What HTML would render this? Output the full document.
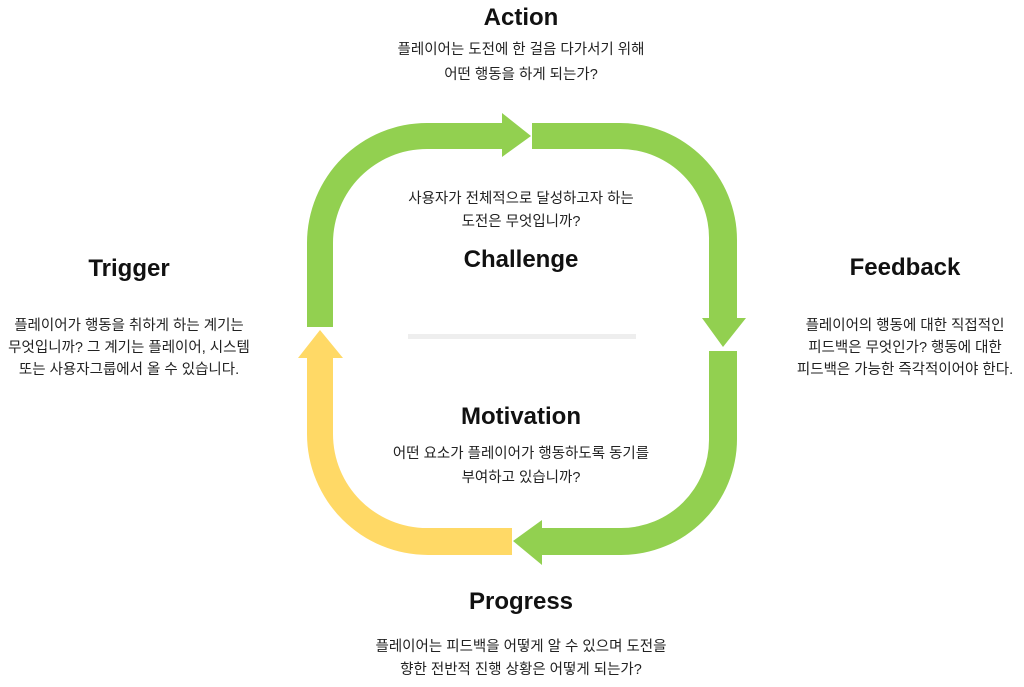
<!DOCTYPE html>
<html><head><meta charset="utf-8"><style>
html,body{margin:0;padding:0;background:#fff;}
svg{display:block;}
.h{font-family:"Liberation Sans",sans-serif;font-weight:bold;font-size:24px;fill:#111;text-anchor:middle;}
.t{font-family:"Liberation Sans","Noto Sans CJK KR",sans-serif;font-size:14.5px;fill:#222;text-anchor:middle;}
</style></head><body>
<svg width="1024" height="687" viewBox="0 0 1024 687" xmlns="http://www.w3.org/2000/svg">
<path fill="#92d050" d="M307,327 L307,243 A120,120 0 0 1 427,123 L502,123 L502,113 L531,136 L502,157 L502,149 L427,149 A94,94 0 0 0 333,243 L333,327 Z"/>
<path fill="#92d050" d="M532,123 L620,123 A117,117 0 0 1 737,240 L737,318 L746,318 L723,347 L702,318 L709,318 L709,240 A89,89 0 0 0 620,149 L532,149 Z"/>
<path fill="#92d050" d="M709,351 L709,440 A88,88 0 0 1 621,528 L542,528 L542,520 L513,541 L542,565 L542,555 L621,555 A116,116 0 0 0 737,439 L737,351 Z"/>
<path fill="#ffd966" d="M512,528 L427,528 A94,94 0 0 1 333,434 L333,358 L343,358 L320,330 L298,358 L307,358 L307,434 A121,121 0 0 0 428,555 L512,555 Z"/>
<rect x="408" y="334" width="228" height="5" fill="#eeeeee"/>
<text class="h" x="521" y="25">Action</text>
<text class="t" x="521" y="54">플레이어는 도전에 한 걸음 다가서기 위해</text>
<text class="t" x="521" y="79">어떤 행동을 하게 되는가?</text>
<text class="t" x="521" y="203">사용자가 전체적으로 달성하고자 하는</text>
<text class="t" x="521" y="226">도전은 무엇입니까?</text>
<text class="h" x="521" y="267">Challenge</text>
<text class="h" x="521" y="424">Motivation</text>
<text class="t" x="521" y="458">어떤 요소가 플레이어가 행동하도록 동기를</text>
<text class="t" x="521" y="482">부여하고 있습니까?</text>
<text class="h" x="521" y="609">Progress</text>
<text class="t" x="521" y="651">플레이어는 피드백을 어떻게 알 수 있으며 도전을</text>
<text class="t" x="521" y="674">향한 전반적 진행 상황은 어떻게 되는가?</text>
<text class="h" x="129" y="276">Trigger</text>
<text class="t" x="129" y="330">플레이어가 행동을 취하게 하는 계기는</text>
<text class="t" x="129" y="352">무엇입니까? 그 계기는 플레이어, 시스템</text>
<text class="t" x="129" y="374">또는 사용자그룹에서 올 수 있습니다.</text>
<text class="h" x="905" y="275">Feedback</text>
<text class="t" x="905" y="330">플레이어의 행동에 대한 직접적인</text>
<text class="t" x="905" y="352">피드백은 무엇인가? 행동에 대한</text>
<text class="t" x="905" y="374">피드백은 가능한 즉각적이어야 한다.</text>
</svg>
</body></html>
